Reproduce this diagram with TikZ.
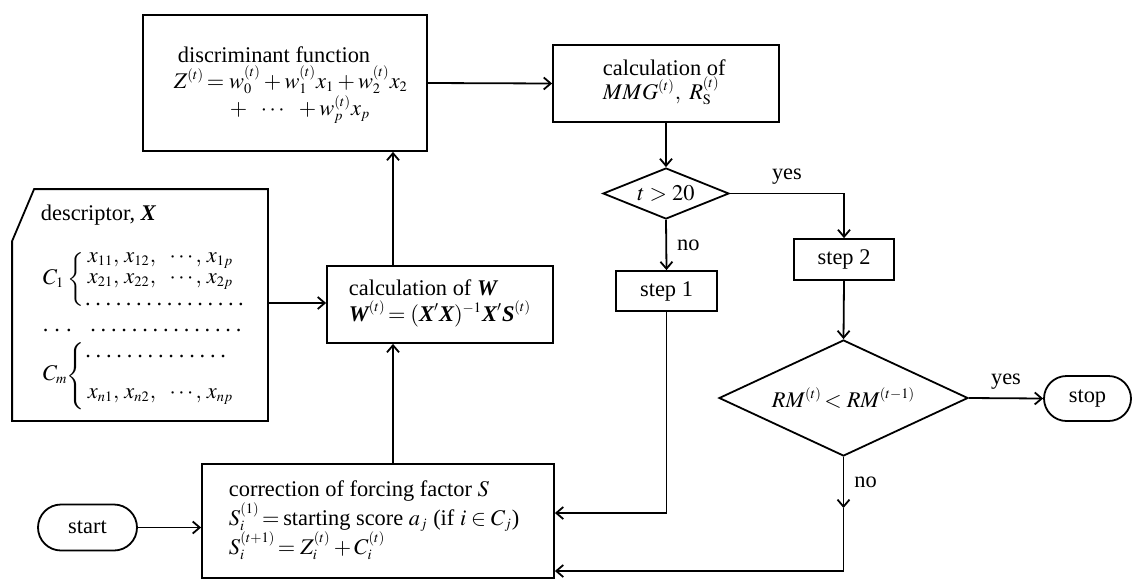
\documentclass[tikz,border=0pt]{standalone}
\usepackage{mathptmx}
\usepackage[no-math]{fontspec}
\setmainfont{Liberation Serif}
\DeclareMathSizes{11.2}{11.2}{7.2}{5.5}
\usetikzlibrary{arrows.meta,shapes.geometric,shapes.misc}
\newcommand{\bi}[1]{\mbox{\normalfont\bfseries\itshape #1}}
\newcommand{\dotrow}[2]{\hbox{\foreach \i in {1,...,#1}{\hbox to #2{\hss.\hss}}}}
\newcommand{\bigbrace}[1]{$\delimitershortfall=0pt\left\{\vcenter{\hbox{\vrule height #1 width 0pt}}\right.$}
\begin{document}
\begin{tikzpicture}[x=0.5pt,y=-0.5pt, line width=0.9pt,
  every node/.style={font=\fontsize{11.2}{13.4}\selectfont, inner sep=0pt},
  box/.style={draw, rectangle},
  dia/.style={draw, diamond, aspect=2.5},
  term/.style={draw, rounded rectangle},
  arr/.style={-{Straight Barb[length=3.5pt,width=6pt]}},
  txt/.style={anchor=base west}]
\useasboundingbox (0,0) rectangle (1133,579);

% discriminant function
\node[box, minimum width=142pt, minimum height=68pt] (disc) at (285,83) {};
\node[txt] (discT1) at (177,62) {discriminant function};
\node[txt] (discT2) at (173,88) {$Z^{(t)}\!=w_0^{(t)}+w_1^{(t)}x_1+w_2^{(t)}x_2$};
\node[txt] (discT3) at (229,115) {$+\ \ \cdots\ \ +w_p^{(t)}x_p$};

% calculation of MMG
\node[box, minimum width=113pt, minimum height=38.5pt] (mmg) at (666,83.5) {};
\node[txt] (mmgT1) at (602,75) {calculation of};
\node[txt] (mmgT2) at (602,99) {$MMG^{(t)},\ R_{\mathrm{S}}^{(t)}$};

% decisions and steps
\node[dia, minimum width=63pt, minimum height=25.5pt] (d1) at (666,193.5) {$t>20$};
\node[box, minimum width=50.5pt, minimum height=20pt] (s1) at (666.5,291) {step 1};
\node[box, minimum width=50pt, minimum height=20.5pt] (s2) at (844,259.5) {step 2};
\node[dia, minimum width=124.5pt, minimum height=58pt] (d2) at (843.5,398) {$RM^{(t)}\!<RM^{(t-1)}$};
\node[term, minimum width=43.5pt, minimum height=22.5pt] (stop) at (1087.5,398.5) {stop};
\node[term, minimum width=49.5pt, minimum height=23pt] (start) at (87.5,527.5) {start};

% correction of forcing factor
\node[box, minimum width=176pt, minimum height=57pt] (corr) at (378,521) {};
\node[txt] (corrT1) at (228,496) {correction of forcing factor $S$};
\node[txt] (corrT2) at (228,525) {$S_i^{(1)}\!=$\,starting score $a_j$ (if $i\in C_j$)};
\node[txt] (corrT3) at (228,554) {$S_i^{(t+1)}\!=Z_i^{(t)}+C_i^{(t)}$};

% calculation of W
\node[box, minimum width=113pt, minimum height=38.5pt] (calcW) at (440,304.5) {};
\node[txt] (wT1) at (348,295) {calculation of \bi{W}};
\node[txt] (wT2) at (348,321) {$\bi{W}^{(t)}\!=(\bi{X}'\bi{X})^{-1}\bi{X}'\bi{S}^{(t)}$};

% descriptor
\node[minimum width=127pt, minimum height=115pt] (desc) at (140,305) {};
\draw ([yshift=-26pt]desc.north west) -- ([xshift=11pt]desc.north west) -- (desc.north east) -- (desc.south east) -- (desc.south west) -- cycle;
\node[txt] (dT) at (40,220) {descriptor, \bi{X}};
\node[txt] (C1) at (42,284) {$C_1$};
\node (b1) at (77,279) {\bigbrace{26pt}};
\node[txt] (r1) at (87,262) {$x_{11},\, x_{12},\ \ \cdots,\, x_{1p}$};
\node[txt] (r2) at (87,283) {$x_{21},\, x_{22},\ \ \cdots,\, x_{2p}$};
\node[txt] (r3) at (82,305) {\dotrow{16}{5.1pt}};
\node[txt] (r4a) at (39,331) {\dotrow{3}{5.8pt}};
\node[txt] (r4b) at (87,331) {\dotrow{15}{5.2pt}};
\node[txt] (r5) at (82,357) {\dotrow{14}{5.2pt}};
\node (b2) at (77,376) {\bigbrace{27pt}};
\node[txt] (Cm) at (42,380) {$C_m$};
\node[txt] (r6) at (87,398) {$x_{n1},\, x_{n2},\ \ \cdots,\, x_{np}$};

% connectors
\coordinate (noTip) at (843.5,508);
\coordinate (noTurn) at (843.5,571);
\coordinate (s1Turn) at (666.5,513);
\coordinate (wx) at (393,0);
\coordinate (dy) at (0,303);

\draw[arr] (disc.east) -- (mmg.west);
\draw[arr] (mmg.south) -- (d1.north);
\draw[arr] (d1.south) -- node[right=5pt] (no1) {no} (s1.north);
\draw[arr] (d1.east) -- node[above=4pt] (yes1) {yes} (d1.east -| s2.north) -- (s2.north);
\draw[arr] (s2.south) -- (d2.north);
\draw[arr] (d2.east) -- node[above=4pt] (yes2) {yes} (stop.west);
\draw[arr] (d2.south) -- node[right=5pt] (no2) {no} (noTip);
\draw[arr] (noTip) -- (noTurn) -- (noTurn -| corr.east);
\draw[arr] (s1.south) -- (s1Turn) -- (s1Turn -| corr.east);
\draw[arr] (start.east) -- (corr.west |- start.east);
\draw[arr] (wx |- corr.north) -- (wx |- calcW.south);
\draw[arr] (wx |- calcW.north) -- (wx |- disc.south);
\draw[arr] (dy -| desc.east) -- (dy -| calcW.west);
\end{tikzpicture}
\end{document}
